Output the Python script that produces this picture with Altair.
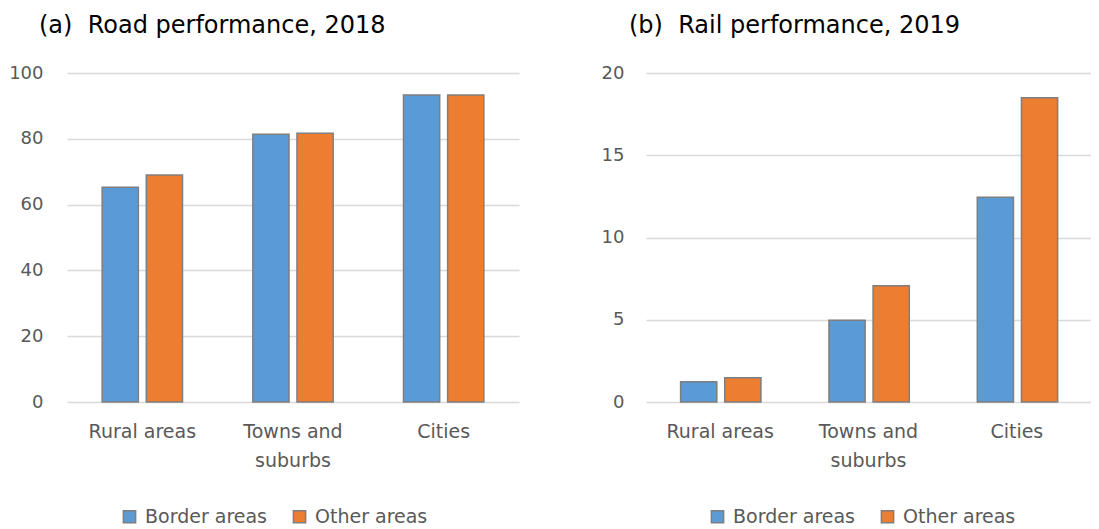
import altair as alt
import pandas as pd

categories = ["Rural areas", "Towns and suburbs", "Cities"]
series = ["Border areas", "Other areas"]
road_border = [65.3, 81.4, 93.3]
road_other = [69.0, 81.7, 93.3]
rail_border = [1.23, 4.97, 12.45]
rail_other = [1.47, 7.07, 18.5]
road_ticks = [0, 20, 40, 60, 80, 100]
rail_ticks = [0, 5, 10, 15, 20]
colors = ["#5b9bd5", "#ed7d31"]
FONT = "DejaVu Sans"


def make_df(border, other):
    rows = []
    for c, b, o in zip(categories, border, other):
        rows.append({"Area": c, "Series": series[0], "Value": b})
        rows.append({"Area": c, "Series": series[1], "Value": o})
    return pd.DataFrame(rows)


label_expr = "datum.label == 'Towns and suburbs' ? ['Towns and', 'suburbs'] : datum.label"


def panel(df, title, ticks, width, dx, legend_x, ypad):
    return alt.Chart(df).mark_bar(stroke="#7f7f7f", strokeWidth=1.5).encode(
        x=alt.X("Area:N", sort=categories, title=None,
                scale=alt.Scale(paddingInner=0.4667, paddingOuter=0.2333),
                axis=alt.Axis(labelAngle=0, domain=False, ticks=False,
                              labelExpr=label_expr, labelPadding=20,
                              labelFontSize=19, labelLineHeight=29)),
        xOffset=alt.XOffset("Series:N", sort=series,
                            scale=alt.Scale(paddingInner=0.18, paddingOuter=0)),
        y=alt.Y("Value:Q", title=None,
                scale=alt.Scale(domain=[ticks[0], ticks[-1]], nice=False),
                axis=alt.Axis(values=ticks, domain=False, ticks=False,
                              labelPadding=ypad, gridColor="#d9d9d9",
                              gridWidth=1.5)),
        color=alt.Color("Series:N", sort=series,
                        scale=alt.Scale(domain=series, range=colors),
                        legend=alt.Legend(title=None, orient="none",
                                          legendX=legend_x, legendY=434,
                                          direction="horizontal")),
    ).properties(
        width=width, height=329,
        title=alt.Title(title, anchor="start", frame="group", dx=dx, offset=26),
    )


left = panel(make_df(road_border, road_other),
             "(a)\u00a0 Road performance, 2018", road_ticks, 452, -28, 53, 24)
right = panel(make_df(rail_border, rail_other),
              "(b)\u00a0 Rail performance, 2019", rail_ticks, 445, -17, 62, 22)

chart = alt.hconcat(left, right, spacing=82).resolve_legend(
    color="independent"
).properties(padding={"top": 6, "left": 0, "right": 0, "bottom": 0}).configure(
    font=FONT
).configure_view(stroke=None).configure_axis(
    labelFontSize=18, labelColor="#595959", labelFont=FONT
).configure_title(
    fontSize=24, fontWeight="normal", color="#000000", font=FONT
).configure_legend(
    labelFontSize=19, labelColor="#595959", labelFont=FONT,
    symbolType="square", symbolSize=150, symbolStrokeColor="#7f7f7f",
    symbolStrokeWidth=1.5, columnPadding=22, labelOffset=6, padding=0
)

chart.save("out.html", embed_options={"renderer": "svg", "actions": False})
